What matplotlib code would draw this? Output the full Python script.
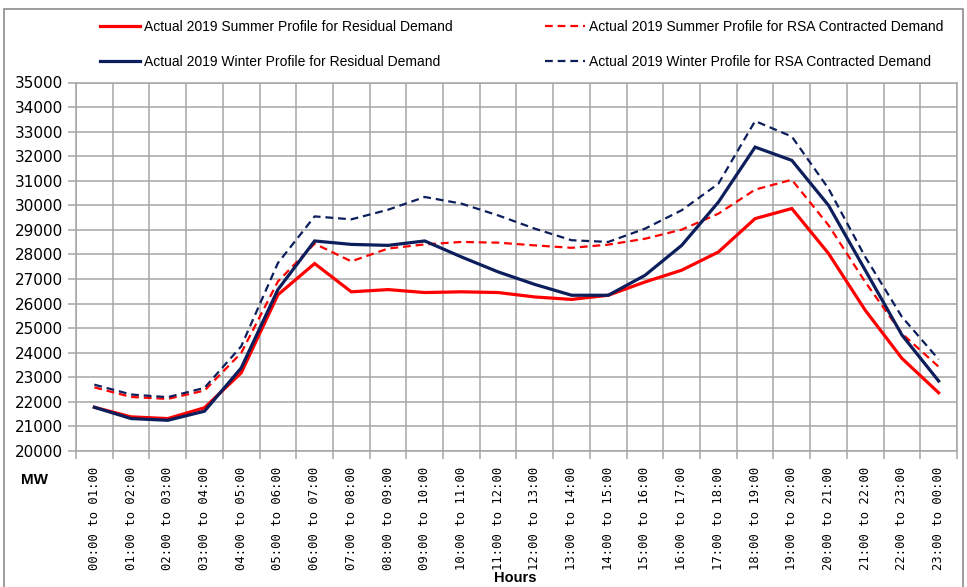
import numpy as np
import matplotlib
matplotlib.use("Agg")
import matplotlib.pyplot as plt
from matplotlib.patches import Rectangle

# hourly profiles (MW)
hours = [f"{h:02d}:00 to {(h + 1) % 24:02d}:00" for h in range(24)]

summer_residual = [21780, 21390, 21320, 21760, 23180, 26360, 27630, 26480,
                   26570, 26450, 26480, 26450, 26270, 26170, 26340, 26880,
                   27360, 28100, 29460, 29870, 28040, 25730, 23770, 22370]
winter_residual = [21780, 21320, 21250, 21620, 23380, 26570, 28550, 28410,
                   28370, 28550, 27900, 27290, 26780, 26340, 26340, 27150,
                   28370, 30130, 32370, 31830, 30000, 27360, 24720, 22850]
summer_rsa = [22590, 22200, 22120, 22460, 23990, 26900, 28440, 27720,
              28240, 28410, 28510, 28480, 28370, 28270, 28400, 28640,
              29010, 29660, 30640, 31040, 29190, 26880, 24780, 23430]
winter_rsa = [22700, 22300, 22190, 22570, 24260, 27650, 29550, 29430,
              29820, 30340, 30070, 29590, 29050, 28580, 28510, 29050,
              29800, 30880, 33430, 32800, 30680, 27900, 25460, 23730]

RED = "#ff0000"
NAVY = "#0c1e5b"
GRID = "#a6a6a6"

fig = plt.figure(figsize=(9.67, 5.87), dpi=100)
ax = fig.add_axes([76 / 967, 1 - 451 / 587, (957 - 76) / 967, (451 - 82.5) / 587])

x = np.arange(len(hours))
dash = (0, (3.5, 2.2))
l1, = ax.plot(x, summer_residual, color=RED, lw=2.3, solid_joinstyle="miter")
l3, = ax.plot(x, summer_rsa, color=RED, lw=1.6, linestyle=dash)
l2, = ax.plot(x, winter_residual, color=NAVY, lw=2.3, solid_joinstyle="miter")
l4, = ax.plot(x, winter_rsa, color=NAVY, lw=1.6, linestyle=dash)

ax.set_xlim(-0.5, len(hours) - 0.5)
ax.set_ylim(20000, 35000)
ax.set_yticks(np.arange(20000, 35001, 1000))
ax.set_xticks(x)
ax.set_xticklabels(hours, rotation=90, family="DejaVu Sans Mono", fontsize=8.8)
ax.set_xticks(np.arange(-0.5, len(hours), 1), minor=True)

ax.tick_params(axis="x", which="major", length=0, pad=11)
ax.tick_params(axis="x", which="minor", length=6, width=1.1, color=GRID)
ax.tick_params(axis="y", length=6, width=1.1, color=GRID, labelsize=11, pad=3)

ax.grid(axis="y", color=GRID, lw=1.1)
ax.grid(axis="x", which="minor", color=GRID, lw=1.1)
ax.set_axisbelow(True)
for s in ax.spines.values():
    s.set_color(GRID)
    s.set_linewidth(1.1)

# legend, two columns
leg_kw = dict(frameon=False, loc="upper left", handlelength=2.9, handletextpad=0.3,
              labelspacing=1.5, borderaxespad=0, borderpad=0,
              prop={"family": "Liberation Sans", "size": 10})
fig.legend([l1, l2], ["Actual 2019 Summer Profile for Residual Demand",
                      "Actual 2019 Winter Profile for Residual Demand"],
           bbox_to_anchor=(100 / 967, 1 - 20 / 587), **leg_kw)
fig.legend([l3, l4], ["Actual 2019 Summer Profile for RSA Contracted Demand",
                      "Actual 2019 Winter Profile for RSA Contracted Demand"],
           bbox_to_anchor=(545 / 967, 1 - 20 / 587), **leg_kw)

fig.text(34 / 967, 1 - 480 / 587, "MW", ha="center", va="center",
         fontsize=11, fontweight="bold", family="Liberation Sans")
fig.text(515 / 967, 1 - 578 / 587, "Hours", ha="center", va="center",
         fontsize=10.5, fontweight="bold", family="Liberation Sans")

fig.add_artist(Rectangle((4 / 967, -0.02), 959 / 967, 1 - 9 / 587 + 0.02,
                         transform=fig.transFigure, fill=False,
                         edgecolor="#8c8c8c", lw=1.2))

fig.savefig("out.png", dpi=100)
